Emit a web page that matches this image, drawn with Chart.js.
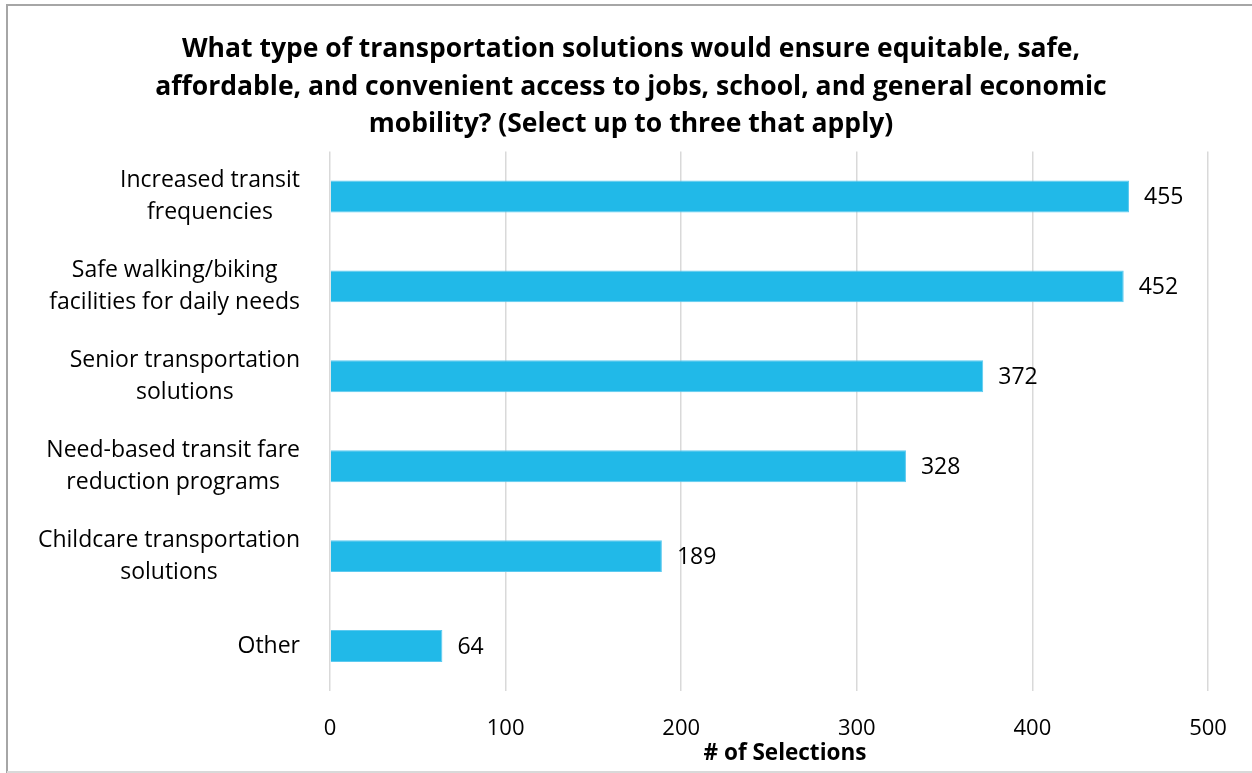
<!DOCTYPE html>
<html>
<head>
<meta charset="utf-8">
<script src="https://cdn.jsdelivr.net/npm/chart.js@4/dist/chart.umd.min.js"></script>
<style>
  html, body { margin: 0; padding: 0; background: #ffffff; }
  canvas { display: block; }
</style>
</head>
<body>
<canvas id="chart" width="1252" height="773"></canvas>
<script>
// Answer options, one entry per bar (each entry holds the wrapped label lines)
const categories = [
  ["Increased transit", "frequencies"],
  ["Safe walking/biking", "facilities for daily needs"],
  ["Senior transportation", "solutions"],
  ["Need-based transit fare", "reduction programs"],
  ["Childcare transportation", "solutions"],
  ["Other"]
];
// Number of selections per option
const selections = [455, 452, 372, 328, 189, 64];
// Value axis tick labels
const xTicks = [0, 100, 200, 300, 400, 500];
const titleLines = [
  "What type of transportation solutions would ensure equitable, safe,",
  "affordable, and convenient access to jobs, school, and general economic",
  "mobility? (Select up to three that apply)"
];
const xAxisTitle = "# of Selections";

const FONT = "'Open Sans', 'Liberation Sans', sans-serif";
const BAR_COLOR = "#21b9e8";
const LABEL_SIZE = 23;

// Outer frame of the chart
const framePlugin = {
  id: "frame",
  afterDraw(chart) {
    const ctx = chart.ctx;
    ctx.save();
    ctx.strokeStyle = "#a6a6a6";
    ctx.lineWidth = 2;
    ctx.beginPath();
    ctx.moveTo(7, 773);
    ctx.lineTo(7, 5);
    ctx.lineTo(1252, 5);
    ctx.stroke();
    ctx.strokeStyle = "#d9d9d9";
    ctx.beginPath();
    ctx.moveTo(7, 772);
    ctx.lineTo(1252, 772);
    ctx.stroke();
    ctx.restore();
  }
};

// Category labels: each block is right-aligned to the axis, its lines centred within the block
const categoryLabelPlugin = {
  id: "categoryLabels",
  afterDraw(chart) {
    const ctx = chart.ctx;
    const yScale = chart.scales.y;
    const right = chart.chartArea.left - 30;
    const lineGap = 32;
    ctx.save();
    ctx.font = LABEL_SIZE + "px " + FONT;
    ctx.fillStyle = "#000000";
    ctx.textAlign = "center";
    ctx.textBaseline = "middle";
    categories.forEach((lines, i) => {
      const y = yScale.getPixelForValue(i);
      const w = Math.max(...lines.map(l => ctx.measureText(l).width));
      const cx = right - w / 2;
      lines.forEach((line, k) => {
        ctx.fillText(line, cx, y + (k - (lines.length - 1) / 2) * lineGap);
      });
    });
    ctx.restore();
  }
};

// Value printed just past the end of each bar
const valueLabelPlugin = {
  id: "valueLabels",
  afterDatasetsDraw(chart) {
    const ctx = chart.ctx;
    const meta = chart.getDatasetMeta(0);
    ctx.save();
    ctx.font = LABEL_SIZE + "px " + FONT;
    ctx.fillStyle = "#000000";
    ctx.textAlign = "left";
    ctx.textBaseline = "middle";
    meta.data.forEach((bar, i) => {
      ctx.fillText(String(selections[i]), bar.x + 15, bar.y + 1);
    });
    ctx.restore();
  }
};

// Value axis title, set slightly right of the plot centre
const axisTitlePlugin = {
  id: "axisTitle",
  afterDraw(chart) {
    const ctx = chart.ctx;
    const area = chart.chartArea;
    ctx.save();
    ctx.font = "bold 22.5px " + FONT;
    ctx.fillStyle = "#000000";
    ctx.textAlign = "center";
    ctx.textBaseline = "middle";
    ctx.fillText(xAxisTitle, (area.left + area.right) / 2 + 16, area.bottom + 63);
    ctx.restore();
  }
};

new Chart(document.getElementById("chart"), {
  type: "bar",
  data: {
    labels: categories.map(c => c.join(" ")),
    datasets: [{
      data: selections,
      backgroundColor: BAR_COLOR,
      borderColor: "#5ccaf0",
      borderWidth: 1,
      categoryPercentage: 1,
      barPercentage: 0.355
    }]
  },
  options: {
    indexAxis: "y",
    responsive: false,
    animation: false,
    layout: { padding: { left: 54, right: 44, top: 0, bottom: 8 } },
    plugins: {
      legend: { display: false },
      tooltip: { enabled: false },
      title: {
        display: true,
        text: titleLines,
        color: "#000000",
        font: { family: FONT, size: 26.5, weight: "bold", lineHeight: 1.415 },
        padding: { top: 31, bottom: 8 }
      }
    },
    scales: {
      x: {
        min: xTicks[0],
        max: xTicks[xTicks.length - 1],
        afterBuildTicks(scale) {
          scale.ticks = xTicks.map(v => ({ value: v }));
        },
        afterFit(scale) { scale.height = 74; },
        border: { display: false },
        grid: { color: "#d9d9d9", lineWidth: 1.5, drawTicks: false },
        ticks: {
          color: "#000000",
          font: { family: FONT, size: 22 },
          padding: 25,
          minRotation: 0,
          maxRotation: 0
        },
        title: { display: false }
      },
      y: {
        afterFit(scale) { scale.width = 276; },
        border: { display: false },
        grid: { display: false },
        ticks: { display: false }
      }
    }
  },
  plugins: [framePlugin, categoryLabelPlugin, valueLabelPlugin, axisTitlePlugin]
});
</script>
</body>
</html>
